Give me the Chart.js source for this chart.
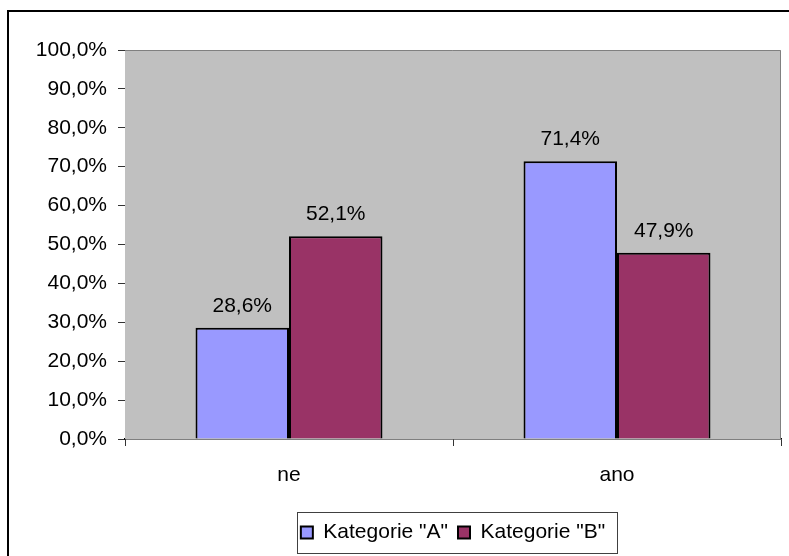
<!DOCTYPE html>
<html>
<head>
<meta charset="utf-8">
<script src="https://cdn.jsdelivr.net/npm/chart.js@4.4.1/dist/chart.umd.min.js"></script>
<style>
  html, body { margin: 0; padding: 0; background: #ffffff; }
  #wrap { width: 789px; height: 556px; }
</style>
</head>
<body>
<div id="wrap"><canvas id="chart" width="789" height="556"></canvas></div>
<script>
// Answers per category, as shares in percent
const categories = ['ne', 'ano'];
const seriesNames = ['Kategorie "A"', 'Kategorie "B"'];
const valuesA = [28.6, 71.4];
const valuesB = [52.1, 47.9];
const yTicks = [0, 10, 20, 30, 40, 50, 60, 70, 80, 90, 100];

const FONT = "'Liberation Sans', Arial, sans-serif";
const FSIZE = 21;

const fmtPct = v => v.toFixed(1).replace('.', ',') + '%';

// Outer frame and grey plot background
const framePlugin = {
  id: 'frame',
  beforeDraw(chart) {
    const ctx = chart.ctx;
    ctx.save();
    ctx.fillStyle = '#000000';
    ctx.fillRect(7, 10, 2, chart.height);
    ctx.fillRect(7, 10, chart.width, 2);
    ctx.restore();
  },
  beforeDatasetsDraw(chart) {
    const { ctx, chartArea: a } = chart;
    ctx.save();
    ctx.fillStyle = '#C0C0C0';
    ctx.fillRect(a.left, a.top, a.right - a.left, a.bottom - a.top);
    ctx.strokeStyle = '#808080';
    ctx.lineWidth = 1;
    ctx.beginPath();
    ctx.moveTo(a.left, a.top + 0.5);
    ctx.lineTo(a.right - 0.5, a.top + 0.5);
    ctx.lineTo(a.right - 0.5, a.bottom);
    ctx.stroke();
    ctx.restore();
  }
};

// Value labels above each bar
const valueLabels = {
  id: 'valueLabels',
  afterDatasetsDraw(chart) {
    const ctx = chart.ctx;
    ctx.save();
    ctx.font = FSIZE + 'px ' + FONT;
    ctx.fillStyle = '#000000';
    ctx.textAlign = 'center';
    ctx.textBaseline = 'alphabetic';
    chart.data.datasets.forEach((ds, di) => {
      chart.getDatasetMeta(di).data.forEach((bar, i) => {
        ctx.fillText(fmtPct(ds.data[i]), bar.x, bar.y - 16);
      });
    });
    ctx.restore();
  }
};

// Thin box around the legend
const legendBox = {
  id: 'legendBox',
  afterDraw(chart) {
    const lg = chart.legend;
    if (!lg || !lg.legendHitBoxes.length) return;
    const hb = lg.legendHitBoxes;
    const left = hb[0].left - 4;
    const last = hb[hb.length - 1];
    const right = last.left + last.width + 12;
    const ctx = chart.ctx;
    ctx.save();
    ctx.strokeStyle = '#404040';
    ctx.lineWidth = 1;
    ctx.strokeRect(Math.round(left) + 0.5, Math.round(lg.top) + 0.5,
                   Math.round(right - left), Math.round(lg.bottom - lg.top));
    ctx.restore();
  }
};

Chart.defaults.color = '#000000';
Chart.defaults.font.family = FONT;
Chart.defaults.font.size = FSIZE;

new Chart(document.getElementById('chart'), {
  type: 'bar',
  data: {
    labels: categories,
    datasets: [
      {
        label: seriesNames[0],
        data: valuesA,
        backgroundColor: '#9999FF',
        borderColor: '#000000',
        borderWidth: 2,
        categoryPercentage: 0.57,
        barPercentage: 1.0
      },
      {
        label: seriesNames[1],
        data: valuesB,
        backgroundColor: '#993366',
        borderColor: '#000000',
        borderWidth: 2,
        categoryPercentage: 0.57,
        barPercentage: 1.0
      }
    ]
  },
  options: {
    responsive: false,
    animation: false,
    layout: { padding: { top: 50, right: 8, bottom: 3, left: 0 } },
    plugins: {
      tooltip: { enabled: false },
      legend: {
        position: 'bottom',
        fullSize: false,
        labels: {
          boxWidth: 12,
          boxHeight: 12,
          padding: 10,
          color: '#000000',
          font: { size: FSIZE, family: FONT }
        }
      }
    },
    scales: {
      x: {
        afterFit(scale) { scale.height = 73; },
        grid: {
          offset: true,
          drawOnChartArea: false,
          drawTicks: true,
          tickLength: 7,
          color: '#333333'
        },
        border: { display: true, color: '#000000', width: 1.5 },
        ticks: { padding: 17, color: '#000000', font: { size: FSIZE } }
      },
      y: {
        min: 0,
        max: 100,
        afterFit(scale) { scale.width = 125; },
        afterBuildTicks(scale) { scale.ticks = yTicks.map(v => ({ value: v })); },
        grid: {
          drawOnChartArea: false,
          drawTicks: true,
          tickLength: 7,
          color: '#333333'
        },
        border: { display: true, color: '#333333', width: 1 },
        ticks: {
          padding: 11,
          color: '#000000',
          font: { size: FSIZE },
          callback: v => fmtPct(v)
        }
      }
    }
  },
  plugins: [framePlugin, valueLabels, legendBox]
});
</script>
</body>
</html>
